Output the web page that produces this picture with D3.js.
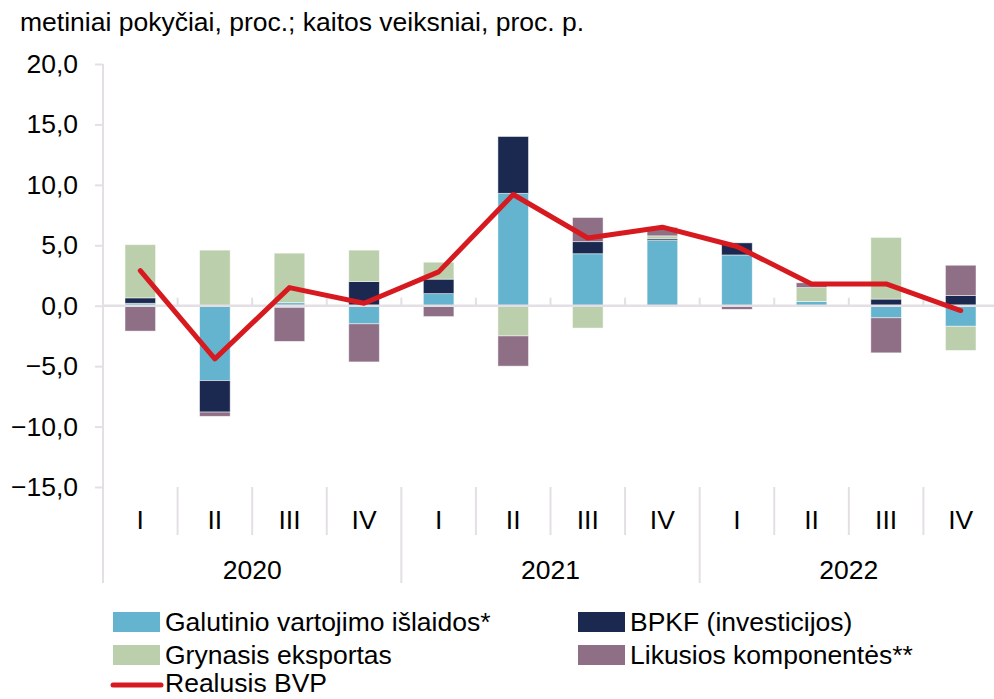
<!DOCTYPE html>
<html>
<head>
<meta charset="utf-8">
<script src="https://cdn.jsdelivr.net/npm/d3@7"></script>
<style>
  body { margin: 0; background: #fff; }
  svg text { font-family: "Liberation Sans", Arial, sans-serif; fill: #000; }
</style>
</head>
<body>
<div class="chart"></div>
<script>
// values
var quarters = ["I", "II", "III", "IV", "I", "II", "III", "IV", "I", "II", "III", "IV"];
var years = ["2020", "2021", "2022"];
var galutinio = [0.2, -6.2, 0.25, -1.5, 1.0, 9.3, 4.3, 5.4, 4.2, 0.35, -1.0, -1.7];
var bpkf = [0.45, -2.6, -0.15, 2.0, 1.2, 4.7, 1.0, 0.13, 1.0, 0, 0.55, 0.85];
var grynasis = [4.4, 4.6, 4.1, 2.6, 1.4, -2.5, -1.85, 0.25, 0, 1.15, 5.1, -2.0];
var likusios = [-2.1, -0.35, -2.8, -3.15, -0.9, -2.5, 2.0, 0.7, -0.3, 0.4, -2.9, 2.5];
var bvp = [2.9, -4.4, 1.5, 0.2, 2.8, 9.2, 5.6, 6.5, 4.9, 1.8, 1.8, -0.4];
var yTicks = [-15, -10, -5, 0, 5, 10, 15, 20];

var series = [
  {key: "galutinio", name: "Galutinio vartojimo išlaidos*", color: "#65b4cf", values: galutinio},
  {key: "bpkf", name: "BPKF (investicijos)", color: "#1b2850", values: bpkf},
  {key: "grynasis", name: "Grynasis eksportas", color: "#bccfad", values: grynasis},
  {key: "likusios", name: "Likusios komponentės**", color: "#8e6f86", values: likusios}
];

var rows = quarters.map(function(q, i) {
  var r = {id: i};
  series.forEach(function(s) { r[s.key] = s.values[i]; });
  return r;
});

var width = 994, height = 699;
var axisColor = "#e4dfe4";
var fs = "26.5px";

var svg = d3.select(".chart").append("svg")
    .attr("width", width)
    .attr("height", height);

var x = d3.scaleBand()
    .domain(d3.range(quarters.length))
    .range([103, 998]);

var y = d3.scaleLinear()
    .domain([-15, 20])
    .range([487, 64]);

var barW = x.bandwidth() * 0.41;

// title
svg.append("text")
    .attr("x", 20)
    .attr("y", 31)
    .style("font-size", fs)
    .text("metiniai pokyčiai, proc.; kaitos veiksniai, proc. p.");

// y axis
var yAxis = svg.append("g")
    .attr("transform", "translate(103,0)")
    .call(d3.axisLeft(y)
      .tickValues(yTicks)
      .tickSize(8)
      .tickPadding(17)
      .tickFormat(function(d) { return d3.format(".1f")(d).replace(".", ",").replace("-", "\u2013"); }));
yAxis.select(".domain").remove();
yAxis.selectAll(".tick line").attr("stroke", axisColor).attr("stroke-width", 2);
yAxis.selectAll(".tick text")
    .style("font-size", fs)
    .attr("font-family", null);

svg.append("line")
    .attr("x1", 103).attr("x2", 103)
    .attr("y1", y(20)).attr("y2", 583)
    .attr("stroke", axisColor).attr("stroke-width", 2);

// stacked bars
var stack = d3.stack()
    .keys(series.map(function(s) { return s.key; }))
    .offset(d3.stackOffsetDiverging);
var stacked = stack(rows);

svg.append("g").selectAll("g")
  .data(stacked)
  .enter().append("g")
    .attr("fill", function(d, i) { return series[i].color; })
  .selectAll("rect")
  .data(function(d) { return d; })
  .enter().append("rect")
    .attr("x", function(d, i) { return x(i) + (x.bandwidth() - barW) / 2; })
    .attr("width", barW)
    .attr("y", function(d) { return y(Math.max(d[0], d[1])); })
    .attr("height", function(d) { return Math.abs(y(d[0]) - y(d[1])); })
    .attr("stroke", "#ffffff")
    .attr("stroke-opacity", 0.6)
    .attr("stroke-width", 0.8);

// zero line with small ticks at band boundaries
svg.append("line")
    .attr("x1", 103).attr("x2", 998)
    .attr("y1", y(0)).attr("y2", y(0))
    .attr("stroke", axisColor).attr("stroke-width", 2.5);

svg.append("g").selectAll("line")
  .data(d3.range(1, quarters.length))
  .enter().append("line")
    .attr("x1", function(i) { return x(i); })
    .attr("x2", function(i) { return x(i); })
    .attr("y1", y(0) - 8)
    .attr("y2", y(0))
    .attr("stroke", axisColor).attr("stroke-width", 2);

// category axis below
svg.append("g").selectAll("line")
  .data(d3.range(1, quarters.length + 1))
  .enter().append("line")
    .attr("x1", function(i) { return x(i) || 998; })
    .attr("x2", function(i) { return x(i) || 998; })
    .attr("y1", 487)
    .attr("y2", function(i) { return i % 4 === 0 ? 583 : 535; })
    .attr("stroke", axisColor).attr("stroke-width", 2);

svg.append("g").selectAll("text")
  .data(quarters)
  .enter().append("text")
    .attr("x", function(d, i) { return x(i) + x.bandwidth() / 2; })
    .attr("y", 529)
    .attr("text-anchor", "middle")
    .style("font-size", fs)
    .text(function(d) { return d; });

svg.append("g").selectAll("text")
  .data(years)
  .enter().append("text")
    .attr("x", function(d, i) { return (x(i * 4) + x(i * 4 + 3) + x.bandwidth()) / 2; })
    .attr("y", 579)
    .attr("text-anchor", "middle")
    .style("font-size", fs)
    .text(function(d) { return d; });

// real GDP line
var line = d3.line()
    .x(function(d, i) { return x(i) + x.bandwidth() / 2; })
    .y(function(d) { return y(d); });

svg.append("path")
    .datum(bvp)
    .attr("d", line)
    .attr("fill", "none")
    .attr("stroke", "#d71a20")
    .attr("stroke-width", 5)
    .attr("stroke-linejoin", "round")
    .attr("stroke-linecap", "round");

// legend
var legendPos = [[113, 622], [578, 622], [113, 655], [578, 655]];
var legend = svg.append("g");
series.forEach(function(s, i) {
  var p = legendPos[i];
  legend.append("rect")
      .attr("x", p[0]).attr("y", p[1] - 10)
      .attr("width", 47).attr("height", 20)
      .attr("fill", s.color);
  legend.append("text")
      .attr("x", p[0] + 52).attr("y", p[1] + 9)
      .style("font-size", fs)
      .text(s.name);
});
legend.append("line")
    .attr("x1", 113).attr("x2", 161)
    .attr("y1", 685).attr("y2", 685)
    .attr("stroke", "#d71a20").attr("stroke-width", 5)
    .attr("stroke-linecap", "round");
legend.append("text")
    .attr("x", 165).attr("y", 692)
    .style("font-size", fs)
    .text("Realusis BVP");
</script>
</body>
</html>
